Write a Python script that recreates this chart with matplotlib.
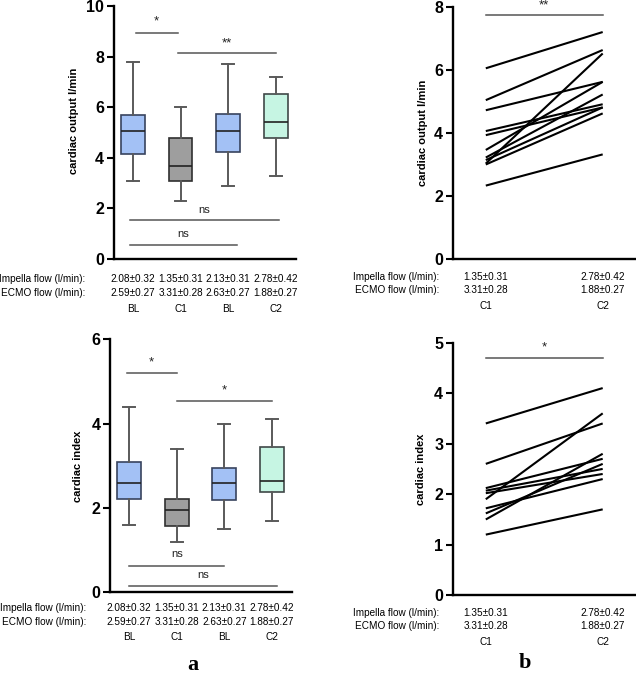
import matplotlib
matplotlib.use("Agg")
import matplotlib.pyplot as plt

plt.rcParams['font.family'] = ['Liberation Sans', 'DejaVu Sans']

# box plot groups (panel a)
groups = ['BL', 'C1', 'BL', 'C2']
impella = ['2.08±0.32', '1.35±0.31', '2.13±0.31', '2.78±0.42']
ecmo = ['2.59±0.27', '3.31±0.28', '2.63±0.27', '1.88±0.27']

# cardiac output box stats: whisker low, q1, median, q3, whisker high
co_lo = [3.1, 2.3, 2.9, 3.3]
co_q1 = [4.16, 3.1, 4.24, 4.78]
co_med = [5.06, 3.66, 5.08, 5.40]
co_q3 = [5.70, 4.80, 5.72, 6.52]
co_hi = [7.8, 6.0, 7.7, 7.2]

# cardiac index box stats
ci_lo = [1.6, 1.2, 1.5, 1.7]
ci_q1 = [2.22, 1.58, 2.18, 2.38]
ci_med = [2.60, 1.96, 2.60, 2.64]
ci_q3 = [3.10, 2.22, 2.95, 3.44]
ci_hi = [4.4, 3.4, 4.0, 4.1]

# paired data (panel b)
pair_groups = ['C1', 'C2']
pair_impella = ['1.35±0.31', '2.78±0.42']
pair_ecmo = ['3.31±0.28', '1.88±0.27']
co_c1 = [6.05, 5.04, 4.72, 4.06, 3.93, 3.46, 3.22, 3.14, 3.03, 3.0, 2.33]
co_c2 = [7.2, 6.63, 5.62, 4.91, 4.81, 5.62, 5.22, 4.81, 6.52, 4.62, 3.32]
ci_c1 = [3.4, 2.6, 2.12, 2.07, 2.02, 1.9, 1.72, 1.62, 1.5, 1.2]
ci_c2 = [4.1, 3.4, 2.7, 2.5, 2.4, 3.6, 2.3, 2.6, 2.8, 1.7]

box_fill = ['#a3c1f5', '#9e9e9e', '#a3c1f5', '#c6f5e3']
box_edge = ['#38435e', '#303030', '#38435e', '#404848']
sig_color = '#555555'


def style_axis(ax, ylabel, ymax, step, lab_xy):
    for s in ['top', 'right']:
        ax.spines[s].set_visible(False)
    ax.spines['left'].set_linewidth(1.7)
    ax.spines['bottom'].set_linewidth(1.7)
    ax.set_ylim(0, ymax)
    ax.set_yticks(range(0, ymax + 1, step))
    ax.tick_params(axis='y', width=1.5, length=5, labelsize=11.5, pad=2)
    for t in ax.get_yticklabels():
        t.set_fontweight('bold')
    ax.set_xticks([])
    ax.set_ylabel(ylabel, fontsize=8, fontweight='bold')
    ax.yaxis.set_label_coords(*lab_xy)


def flow_rows(ax, xs, imp, ecm, grp, rows, lab_x):
    tr = ax.get_xaxis_transform()
    ax.text(lab_x, rows[0], 'Impella flow (l/min):', transform=ax.transAxes,
            ha='right', va='center', fontsize=7.2)
    ax.text(lab_x, rows[1], 'ECMO flow (l/min):', transform=ax.transAxes,
            ha='right', va='center', fontsize=7.2)
    for x, a, b, g in zip(xs, imp, ecm, grp):
        ax.text(x, rows[0], a, transform=tr, ha='center', va='center', fontsize=7.2)
        ax.text(x, rows[1], b, transform=tr, ha='center', va='center', fontsize=7.2)
        ax.text(x, rows[2], g, transform=tr, ha='center', va='center', fontsize=7.2)


def sig(ax, x0, x1, y, label, dy, fs=9.5):
    ax.plot([x0, x1], [y, y], color=sig_color, lw=1.1, clip_on=False)
    ax.text((x0 + x1) / 2, y + dy, label, ha='center', va='center',
            fontsize=fs, color='#222222', clip_on=False)


def box_panel(ax, lo, q1, med, q3, hi):
    stats = []
    for i in range(len(lo)):
        stats.append({'whislo': lo[i], 'q1': q1[i], 'med': med[i],
                      'q3': q3[i], 'whishi': hi[i], 'fliers': []})
    pos = list(range(1, len(lo) + 1))
    bp = ax.bxp(stats, positions=pos, widths=0.5, patch_artist=True,
                showfliers=False,
                whiskerprops={'color': '#5a5a5a', 'lw': 1.4},
                capprops={'color': '#5a5a5a', 'lw': 1.4},
                medianprops={'color': '#222222', 'lw': 1.2})
    for patch, fc, ec in zip(bp['boxes'], box_fill, box_edge):
        patch.set_facecolor(fc)
        patch.set_edgecolor(ec)
        patch.set_linewidth(1.2)
    for cap in bp['caps']:
        xd = cap.get_xdata()
        c = (xd[0] + xd[1]) / 2
        cap.set_xdata([c - 0.125, c + 0.125])
    ax.set_xlim(0.6, 4.42)
    return pos


fig = plt.figure(figsize=(6.36, 6.8), dpi=100)

# top left: cardiac output boxes
ax1 = fig.add_axes([0.179, 0.619, 0.286, 0.372])
pos = box_panel(ax1, co_lo, co_q1, co_med, co_q3, co_hi)
style_axis(ax1, 'cardiac output l/min', 10, 2, (-0.19, 0.545))
sig(ax1, 1.06, 1.94, 8.95, '*', 0.45)
sig(ax1, 1.94, 4.0, 8.16, '**', 0.38)
sig(ax1, 0.94, 4.06, 1.53, 'ns', 0.42, fs=8)
sig(ax1, 0.94, 3.19, 0.57, 'ns', 0.44, fs=8)
flow_rows(ax1, pos, impella, ecmo, groups, [-0.079, -0.134, -0.198], -0.155)

# top right: cardiac output pairs
ax2 = fig.add_axes([0.712, 0.619, 0.286, 0.371])
for a, b in zip(co_c1, co_c2):
    ax2.plot([0, 1], [a, b], color='black', lw=1.5, solid_capstyle='butt')
ax2.set_xlim(-0.282, 1.274)
style_axis(ax2, 'cardiac output l/min', 8, 2, (-0.135, 0.5))
sig(ax2, 0, 1, 7.74, '**', 0.3)
flow_rows(ax2, [0, 1], pair_impella, pair_ecmo, pair_groups,
          [-0.071, -0.123, -0.186], -0.075)

# bottom left: cardiac index boxes
ax3 = fig.add_axes([0.173, 0.129, 0.286, 0.372])
pos = box_panel(ax3, ci_lo, ci_q1, ci_med, ci_q3, ci_hi)
style_axis(ax3, 'cardiac index', 6, 2, (-0.15, 0.5))
sig(ax3, 0.95, 2.0, 5.21, '*', 0.25)
sig(ax3, 2.0, 4.0, 4.53, '*', 0.25)
sig(ax3, 1.0, 3.0, 0.63, 'ns', 0.27, fs=8)
sig(ax3, 1.0, 4.1, 0.14, 'ns', 0.27, fs=8)
flow_rows(ax3, pos, impella, ecmo, groups, [-0.063, -0.119, -0.178], -0.132)

# bottom right: cardiac index pairs
ax4 = fig.add_axes([0.712, 0.1246, 0.286, 0.3716])
for a, b in zip(ci_c1, ci_c2):
    ax4.plot([0, 1], [a, b], color='black', lw=1.5, solid_capstyle='butt')
ax4.set_xlim(-0.282, 1.274)
style_axis(ax4, 'cardiac index', 5, 1, (-0.15, 0.5))
sig(ax4, 0, 1, 4.69, '*', 0.22)
flow_rows(ax4, [0, 1], pair_impella, pair_ecmo, pair_groups,
          [-0.071, -0.123, -0.186], -0.075)

fig.text(193 / 636, 1 - 665 / 680, 'a', fontsize=16, fontweight='bold',
         family='Liberation Serif', ha='center', va='center')
fig.text(525 / 636, 1 - 663 / 680, 'b', fontsize=16, fontweight='bold',
         family='Liberation Serif', ha='center', va='center')

fig.savefig('out.png', dpi=100)
